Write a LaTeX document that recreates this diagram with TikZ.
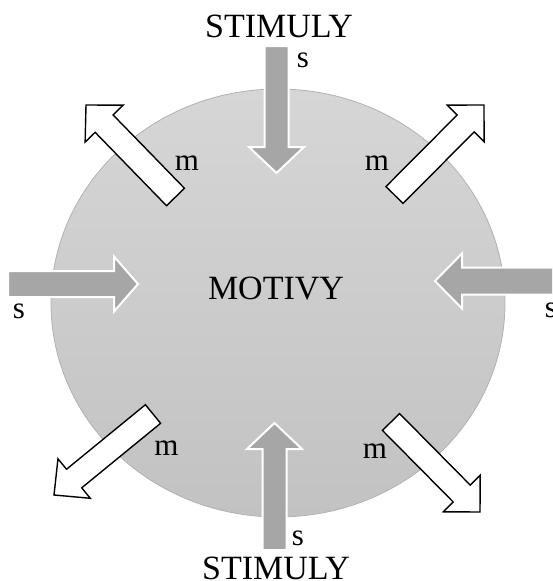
\documentclass[tikz,border=0pt]{standalone}
\usepackage{fontspec}
\setmainfont{Liberation Serif}
\usetikzlibrary{calc}
\definecolor{sgray}{HTML}{A6A6A6}
\definecolor{ctop}{HTML}{D6D6D6}
\definecolor{cbot}{HTML}{C2C2C2}
\definecolor{cedge}{HTML}{B2B2B2}
% #1 tip, #2 tail, #3 half shaft width, #4 half head width, #5 head length, #6 style
\newcommand\blockarrow[6]{%
  \coordinate (#1b) at ($(#1)!#5!(#2)$);
  \draw[#6] (#1) -- ($(#1b)!#4!90:(#1)$) -- ($(#1b)!#3!90:(#1)$)
    -- ($(#2)!#3!90:(#1)$) -- ($(#2)!#3!-90:(#1)$)
    -- ($(#1b)!#3!-90:(#1)$) -- ($(#1b)!#4!-90:(#1)$) -- cycle;
}
\tikzset{
  sarrow/.style={fill=sgray, draw=white, line width=2pt, line join=miter},
  marrow/.style={fill=white, draw=black, line width=1.4pt, line join=miter},
  lbl/.style={anchor=base, inner sep=0pt, font=\fontsize{31}{31}\selectfont},
  big/.style={anchor=base, inner sep=0pt, font=\fontsize{34}{34}\selectfont},
}
\begin{document}
\begin{tikzpicture}[x=1pt, y=-1pt]
\useasboundingbox (0,0) rectangle (552,581);
\clip (0,0) rectangle (552,581);
% central ellipse
\path[top color=ctop, bottom color=cbot, draw=cedge, line width=0.8pt]
  (278,303) ellipse [x radius=227, y radius=214];
% stimulus arrows
\coordinate (tT) at (276.5,173); \coordinate (tC) at (276.5,46);
\coordinate (bT) at (274.5,423); \coordinate (bC) at (274.5,550);
\coordinate (lT) at (138,284);   \coordinate (lC) at (8,284);
\coordinate (rT) at (435,281);   \coordinate (rC) at (562,281);
\blockarrow{tT}{tC}{12pt}{27.5pt}{26pt}{sarrow}
\blockarrow{bT}{bC}{12pt}{27.5pt}{26pt}{sarrow}
\blockarrow{lT}{lC}{13pt}{27.5pt}{24pt}{sarrow}
\blockarrow{rT}{rC}{13.5pt}{27.5pt}{27pt}{sarrow}
% motive arrows
\coordinate (ulT) at (86,105);  \coordinate (ulC) at (175.5,197);
\coordinate (urT) at (484,105); \coordinate (urC) at (394.5,195);
\coordinate (llT) at (54,495);  \coordinate (llC) at (153,414);
\coordinate (lrT) at (480,512); \coordinate (lrC) at (391,422);
\blockarrow{ulT}{ulC}{12.5pt}{26.5pt}{26pt}{marrow}
\blockarrow{urT}{urC}{12pt}{26pt}{26pt}{marrow}
\blockarrow{llT}{llC}{12pt}{25.5pt}{26pt}{marrow}
\blockarrow{lrT}{lrC}{12pt}{26pt}{26pt}{marrow}
% texts
\node[big] (stimtop) at (279,37) {STIMULY};
\node[big] (stimbot) at (276,579) {STIMULY};
\node[big] (motivy) at (276,299) {MOTIVY};
\node[lbl] (st) at (303,67) {s};
\node[lbl] (sb) at (298,545) {s};
\node[lbl] (sl) at (19,318) {s};
\node[lbl] (sr) at (551,317) {s};
\node[lbl] (mul) at (187,170) {m};
\node[lbl] (mur) at (377,170) {m};
\node[lbl] (mll) at (166.5,455) {m};
\node[lbl] (mlr) at (375,458) {m};
\end{tikzpicture}
\end{document}
